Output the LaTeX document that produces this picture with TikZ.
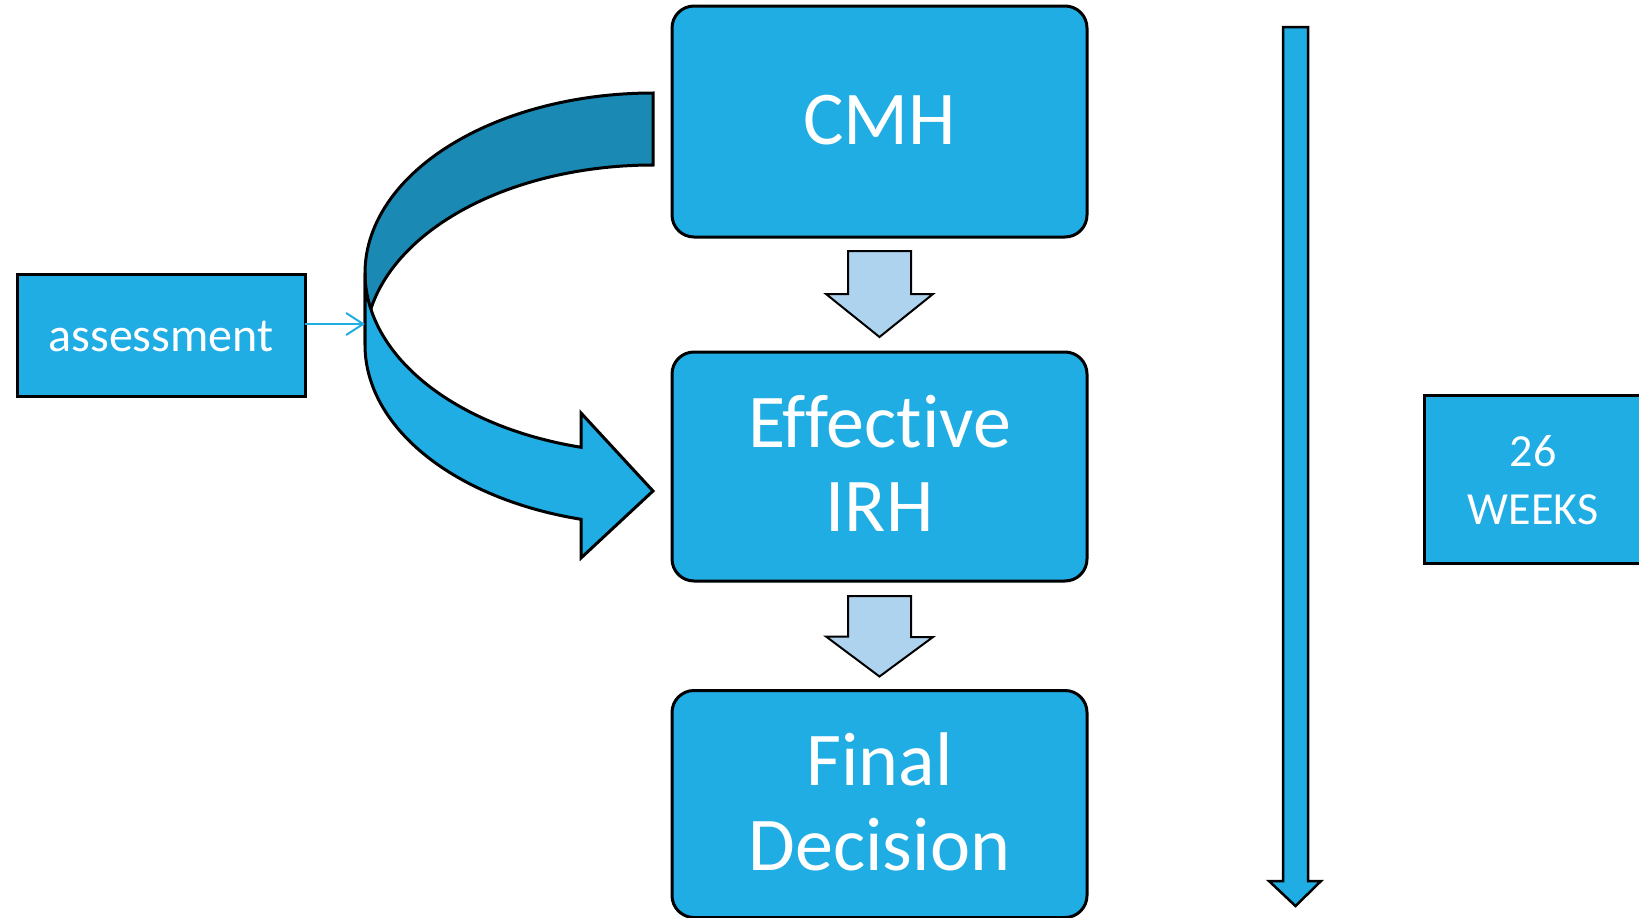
\documentclass[tikz,border=0pt]{standalone}
\usepackage{fontspec}
\setmainfont[Ligatures={NoCommon}]{Carlito}
\usetikzlibrary{arrows.meta,calc}
\definecolor{boxblue}{HTML}{1FADE3}
\definecolor{backblue}{HTML}{1A8AB5}
\definecolor{paleblue}{HTML}{ADD3EE}
\begin{document}
\begin{tikzpicture}[x=1pt,y=-1pt,
  stagebox/.style={draw=black,line width=3pt,fill=boxblue,rounded corners=22pt,inner sep=0pt,outer sep=0pt},
  flatbox/.style={draw=black,line width=3pt,fill=boxblue,inner sep=0pt,outer sep=0pt},
  bigtext/.style={text=white,font=\fontsize{76}{80}\selectfont,anchor=base,inner sep=0pt},
  midtext/.style={text=white,font=\fontsize{48}{52}\selectfont,anchor=base,inner sep=0pt},
  smalltext/.style={text=white,font=\fontsize{46}{50}\selectfont,anchor=base,inner sep=0pt},
  blockarrow/.style={draw=black,line width=2pt,fill=paleblue,line join=miter},
  curveback/.style={draw=black,line width=3pt,fill=backblue,line join=miter},
  curvefront/.style={draw=black,line width=3pt,fill=boxblue,line join=miter},
  timearrow/.style={draw=black,line width=2.5pt,fill=boxblue,line join=miter},
  thinarrow/.style={draw=boxblue,line width=2pt,-{Straight Barb[length=17pt,width=22pt]}}
]
\clip (0,0) rectangle (1639,918);
\fill[white] (0,0) rectangle (1639,918);

% stage boxes
\node[stagebox,minimum width=415pt,minimum height=231pt] (cmh) at (879.5,121.5) {};
\node[stagebox,minimum width=415pt,minimum height=229pt] (irh) at (879.5,466.5) {};
\node[stagebox,minimum width=415pt,minimum height=227pt] (fin) at (879.5,804) {};
\node[flatbox,minimum width=288pt,minimum height=122pt] (assess) at (161,335) {};
\node[flatbox,minimum width=221pt,minimum height=168pt] (weeks) at (1534.5,479) {};

% texts
\node[bigtext] (cmhT) at (879.5,144) {CMH};
\node[bigtext] (irhT1) at (879.5,447) {Effective};
\node[bigtext] (irhT2) at (879.5,531) {IRH};
\node[bigtext] (finT1) at (879.5,785) {Final};
\node[bigtext] (finT2) at (879.5,870) {Decision};
\node[midtext] (assessT) at (161,351) {assessment};
\node[smalltext] (weeksT1) at (1533,466) {26};
\node[smalltext] (weeksT2) at (1533,524) {WEEKS};

% block arrows between stages
\draw[blockarrow] ($(cmh.south)+(-31.5,14)$) -- ++(63,0) -- ++(0,43) -- ++(22,0)
  -- ($(irh.north)+(0,-15)$) -- ++(-53.5,-43) -- ++(22,0) -- cycle;
\draw[blockarrow] ($(irh.south)+(-31.5,15)$) -- ++(63,0) -- ++(0,41) -- ++(22,0)
  -- ($(fin.north)+(0,-14)$) -- ++(-53.5,-40) -- ++(22,0) -- cycle;

% curved arrow (back and front parts)
\draw[curveback] plot[domain=-90:0,samples=60] ({653-288*cos(\x)},{273+180*sin(\x)})
  -- (365,345)
  -- plot[domain=0:-90,samples=60] ({653-288*cos(\x)},{345+180*sin(\x)}) -- cycle;
\draw[curvefront] plot[domain=0:75.52,samples=60] ({653-288*cos(\x)},{273+180*sin(\x)})
  -- (581,413) -- (653,491) -- (581,558)
  -- plot[domain=75.52:0,samples=60] ({653-288*cos(\x)},{345+180*sin(\x)}) -- cycle;

% assessment connector
\coordinate (curveL) at (365,324);
\draw[thinarrow] (assess.east |- curveL) -- (curveL);

% timeline arrow
\draw[timearrow] (1283,27) -- (1308,27) -- (1308,881) -- (1321,881) -- (1295.5,906)
  -- (1269,881) -- (1283,881) -- cycle;
\end{tikzpicture}
\end{document}
